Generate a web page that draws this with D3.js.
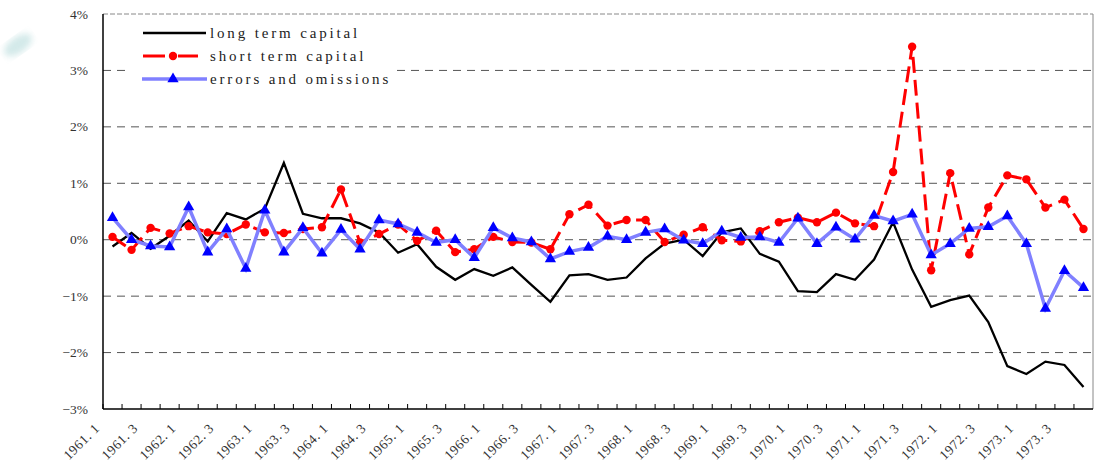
<!DOCTYPE html>
<html>
<head>
<meta charset="utf-8">
<script src="https://cdn.jsdelivr.net/npm/d3@7"></script>
<style>
  body { margin: 0; background: #fff; }
  svg { display: block; }
  text { font-family: "Liberation Serif", "DejaVu Serif", serif; fill: #222; }
</style>
</head>
<body>
<svg id="chart" width="1097" height="463"></svg>
<script>
var quarters = ["1961.1","1961.2","1961.3","1961.4","1962.1","1962.2","1962.3","1962.4",
  "1963.1","1963.2","1963.3","1963.4","1964.1","1964.2","1964.3","1964.4",
  "1965.1","1965.2","1965.3","1965.4","1966.1","1966.2","1966.3","1966.4",
  "1967.1","1967.2","1967.3","1967.4","1968.1","1968.2","1968.3","1968.4",
  "1969.1","1969.2","1969.3","1969.4","1970.1","1970.2","1970.3","1970.4",
  "1971.1","1971.2","1971.3","1971.4","1972.1","1972.2","1972.3","1972.4",
  "1973.1","1973.2","1973.3","1973.4"];

var longTerm = [-0.12, 0.12, -0.16, 0.07, 0.34, -0.03, 0.47, 0.36, 0.55, 1.36, 0.46, 0.38, 0.38, 0.29,
  0.13, -0.23, -0.08, -0.48, -0.71, -0.52, -0.64, -0.49, -0.80, -1.10, -0.63, -0.61, -0.71, -0.67,
  -0.33, -0.07, 0.00, -0.29, 0.13, 0.20, -0.25, -0.39, -0.91, -0.93, -0.61, -0.71, -0.35, 0.31,
  -0.53, -1.19, -1.07, -0.99, -1.46, -2.24, -2.38, -2.16, -2.22, -2.61];

var shortTerm = [0.05, -0.18, 0.21, 0.11, 0.24, 0.13, 0.10, 0.27, 0.13, 0.12, 0.19, 0.22, 0.89, -0.05,
  0.10, 0.27, -0.02, 0.16, -0.22, -0.17, 0.05, -0.04, -0.05, -0.17, 0.45, 0.62, 0.25, 0.35,
  0.35, -0.04, 0.09, 0.22, -0.01, -0.03, 0.15, 0.31, 0.39, 0.31, 0.48, 0.29, 0.24, 1.20,
  3.42, -0.54, 1.18, -0.26, 0.57, 1.14, 1.07, 0.57, 0.71, 0.19];

var errors = [0.39, 0.00, -0.11, -0.13, 0.58, -0.22, 0.19, -0.51, 0.52, -0.22, 0.21, -0.24, 0.18, -0.17,
  0.35, 0.28, 0.13, -0.05, 0.00, -0.32, 0.21, 0.03, -0.04, -0.34, -0.21, -0.14, 0.06, 0.00,
  0.13, 0.19, -0.01, -0.07, 0.15, 0.04, 0.05, -0.05, 0.38, -0.07, 0.22, 0.01, 0.43, 0.33,
  0.45, -0.27, -0.07, 0.20, 0.23, 0.42, -0.07, -1.22, -0.55, -0.85];

var yTicks = [-3, -2, -1, 0, 1, 2, 3, 4];
var legendNames = ["long term capital", "short term capital", "errors and omissions"];

var svg = d3.select("#chart");
var plotL = 103, plotR = 1093, plotT = 14, plotB = 409;

var x = d3.scaleBand().domain(quarters).range([plotL, plotR]);
var y = d3.scaleLinear().domain([-3, 4]).range([plotB, plotT]);
var cx = function(q) { return x(q) + x.bandwidth() / 2; };

// faint decoration in the top-left corner
var defs = svg.append("defs");
defs.append("filter").attr("id", "blur")
  .append("feGaussianBlur").attr("stdDeviation", 3);
svg.append("ellipse")
  .attr("cx", 18).attr("cy", 45).attr("rx", 16).attr("ry", 8)
  .attr("transform", "rotate(-35,18,45)")
  .style("fill", "#a8d4d4").style("opacity", 0.5)
  .attr("filter", "url(#blur)");

// gridlines
svg.append("g").selectAll("line")
  .data(yTicks.filter(function(d) { return d != -3; }))
  .enter().append("line")
  .attr("x1", plotL).attr("x2", plotR)
  .attr("y1", function(d) { return y(d); })
  .attr("y2", function(d) { return y(d); })
  .style("stroke", function(d) { return d == 4 ? "#888" : "#555"; })
  .style("stroke-width", 1)
  .style("stroke-dasharray", function(d) { return d == 4 ? "5,2" : "8,6"; });

// right border
svg.append("line")
  .attr("x1", plotR).attr("x2", plotR).attr("y1", plotT).attr("y2", plotB)
  .style("stroke", "#888").style("stroke-width", 1);

// y labels
svg.append("g").selectAll("text")
  .data(yTicks)
  .enter().append("text")
  .attr("x", 88)
  .attr("y", function(d) { return y(d) + 4.5; })
  .attr("text-anchor", "end")
  .style("font-size", "13.5px")
  .style("fill", "#333")
  .text(function(d) { return (d < 0 ? "\u2212" + (-d) : d) + "%"; });

// axes
svg.append("line")
  .attr("x1", plotL).attr("x2", plotL).attr("y1", plotT).attr("y2", plotB)
  .style("stroke", "#000").style("stroke-width", 1.5);
svg.append("line")
  .attr("x1", plotL).attr("x2", plotR).attr("y1", plotB).attr("y2", plotB)
  .style("stroke", "#000").style("stroke-width", 1.5);

svg.append("g").selectAll("line")
  .data(quarters)
  .enter().append("line")
  .attr("x1", function(d) { return x(d); })
  .attr("x2", function(d) { return x(d); })
  .attr("y1", plotB).attr("y2", plotB - 5)
  .style("stroke", "#000").style("stroke-width", 1);

// x labels every other quarter
svg.append("g").selectAll("text")
  .data(quarters.filter(function(d, i) { return i % 2 == 0; }))
  .enter().append("text")
  .attr("transform", function(d) {
    return "translate(" + (cx(d) - 12) + "," + 429 + ") rotate(-45)";
  })
  .attr("text-anchor", "end")
  .style("font-size", "13.5px")
  .style("letter-spacing", "0.6px")
  .style("fill", "#333")
  .text(function(d) { return d.replace(".", ". "); });

// series
var line = d3.line()
  .x(function(d, i) { return cx(quarters[i]); })
  .y(function(d) { return y(d); });

svg.append("path").datum(longTerm)
  .attr("d", line)
  .style("fill", "none").style("stroke", "#000").style("stroke-width", 2.3);

svg.append("path").datum(shortTerm)
  .attr("d", line)
  .style("fill", "none").style("stroke", "#ff0000").style("stroke-width", 3)
  .style("stroke-dasharray", "16,7");

svg.append("g").selectAll("circle")
  .data(shortTerm)
  .enter().append("circle")
  .attr("cx", function(d, i) { return cx(quarters[i]); })
  .attr("cy", function(d) { return y(d); })
  .attr("r", 4.2)
  .style("fill", "#ff0000");

svg.append("path").datum(errors)
  .attr("d", line)
  .style("fill", "none").style("stroke", "#8080ff").style("stroke-width", 3.5);

var tri = d3.symbol().type(d3.symbolTriangle).size(55);
svg.append("g").selectAll("path")
  .data(errors)
  .enter().append("path")
  .attr("d", tri)
  .attr("transform", function(d, i) {
    return "translate(" + cx(quarters[i]) + "," + y(d) + ")";
  })
  .style("fill", "#0000ff");

// legend
var lg = svg.append("g");
lg.append("rect")
  .attr("x", 128).attr("y", 18).attr("width", 268).attr("height", 72)
  .style("fill", "#fff");

var rows = [33, 56, 79];
lg.append("line").attr("x1", 143).attr("x2", 206).attr("y1", rows[0]).attr("y2", rows[0])
  .style("stroke", "#000").style("stroke-width", 2.3);
lg.append("line").attr("x1", 143).attr("x2", 165).attr("y1", rows[1]).attr("y2", rows[1])
  .style("stroke", "#ff0000").style("stroke-width", 3);
lg.append("line").attr("x1", 178).attr("x2", 198).attr("y1", rows[1]).attr("y2", rows[1])
  .style("stroke", "#ff0000").style("stroke-width", 3);
lg.append("circle").attr("cx", 173).attr("cy", rows[1]).attr("r", 4.2)
  .style("fill", "#ff0000");
lg.append("line").attr("x1", 142).attr("x2", 207).attr("y1", rows[2]).attr("y2", rows[2])
  .style("stroke", "#8080ff").style("stroke-width", 3.5);
lg.append("path").attr("d", tri)
  .attr("transform", "translate(173," + rows[2] + ")")
  .style("fill", "#0000ff");

lg.selectAll("text.name")
  .data(legendNames)
  .enter().append("text")
  .attr("class", "name")
  .attr("x", 210)
  .attr("y", function(d, i) { return rows[i] + 5; })
  .style("font-size", "15px")
  .style("letter-spacing", "2.85px")
  .style("fill", "#222")
  .text(function(d) { return d; });
</script>
</body>
</html>
